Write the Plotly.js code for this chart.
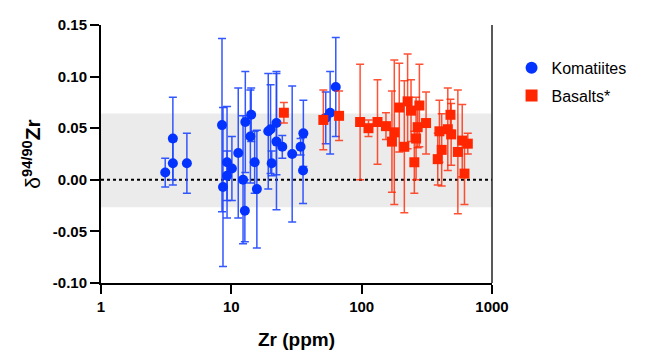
<!DOCTYPE html>
<html>
<head>
<meta charset="utf-8">
<script src="https://cdn.plot.ly/plotly-3.0.1.min.js"></script>
<style>html,body{margin:0;padding:0;background:#fff;}#chart{width:649px;height:354px;}</style>
</head>
<body>
<div id="chart"></div>
<script>
// Komatiites
const komX = [3.11, 3.56, 3.56, 4.56, 8.48, 8.63, 9.27, 9.27, 10.1, 11.3, 12.3, 12.8, 12.7, 14.2, 14.0, 15.1, 15.7, 19.2, 20.0, 22.2, 22.2, 20.4, 24.6, 29.3, 34.0, 35.7, 35.5, 53.0, 57.3, 63.3];
const komY = [0.007, 0.040, 0.016, 0.016, 0.053, -0.007, 0.017, 0.004, 0.011, 0.026, 0.000, 0.056, -0.030, 0.063, 0.042, 0.017, -0.009, 0.047, 0.049, 0.055, 0.037, 0.016, 0.032, 0.025, 0.032, 0.045, 0.009, 0.060, 0.065, 0.090];
const komErr = [0.014, 0.040, 0.021, 0.029, 0.084, 0.077, 0.054, 0.024, 0.031, 0.063, 0.062, 0.049, 0.030, 0.026, 0.045, 0.030, 0.057, 0.056, 0.043, 0.050, 0.066, 0.012, 0.011, 0.066, 0.008, 0.032, 0.032, 0.025, 0.040, 0.048];
// Basalts*
const basX = [25.3, 50.8, 67.1, 97.3, 112.8, 132.3, 153.6, 178, 170.7, 194.4, 212.5, 225.2, 239.2, 261.5, 277.3, 253.6, 269, 312, 383.5, 395, 411, 458, 480, 486, 547, 591, 652, 615];
const basY = [0.065, 0.058, 0.062, 0.056, 0.050, 0.056, 0.052, 0.046, 0.037, 0.070, 0.032, 0.076, 0.067, 0.040, 0.072, 0.017, 0.051, 0.055, 0.020, 0.047, 0.029, 0.049, 0.063, 0.044, 0.027, 0.038, 0.035, 0.006];
const basErr = [0.010, 0.029, 0.024, 0.056, 0.008, 0.041, 0.013, 0.070, 0.049, 0.043, 0.064, 0.046, 0.030, 0.040, 0.040, 0.030, 0.020, 0.030, 0.025, 0.030, 0.035, 0.040, 0.015, 0.030, 0.060, 0.035, 0.010, 0.030];
// Reference band and axis ticks
const bandLow = -0.0267, bandHigh = 0.0642;
const xTickVals = [1, 10, 100, 1000];
const xTickText = ['1', '10', '100', '1000'];
const yTickVals = [-0.10, -0.05, 0.00, 0.05, 0.10, 0.15];
const yTickText = ['-0.10', '-0.05', '0.00', '0.05', '0.10', '0.15'];

const FONT = 'Liberation Sans, Arial, sans-serif';

const traces = [
  {
    name: 'Komatiites', legendgroup: 'k', x: komX, y: komY, type: 'scatter', mode: 'markers',
    marker: {symbol: 'circle', size: 10, color: '#0433ff'},
    error_y: {type: 'data', array: komErr, visible: true, color: 'rgba(30,70,255,0.9)', thickness: 1.5, width: 4}
  },
  {
    name: 'Basalts*', legendgroup: 'b', x: basX, y: basY, type: 'scatter', mode: 'markers',
    marker: {symbol: 'square', size: 10, color: '#ff2600'},
    error_y: {type: 'data', array: basErr, visible: true, color: 'rgba(255,38,0,0.8)', thickness: 1.5, width: 4}
  }
];

const layout = {
  width: 649, height: 354,
  margin: {l: 101, r: 157, t: 25, b: 71},
  paper_bgcolor: '#fff', plot_bgcolor: '#fff',
  showlegend: true,
  legend: {x: 1.05, y: 0.9, xanchor: 'left', yanchor: 'top', font: {family: FONT, size: 16, color: '#000'}, tracegroupgap: 4, itemsizing: 'constant'},
  xaxis: {
    type: 'log', range: [0, 3], showgrid: false, zeroline: false,
    showline: true, linecolor: '#000', linewidth: 2,
    ticks: 'outside', ticklen: 9, tickwidth: 2, tickcolor: '#000',
    tickvals: xTickVals, ticktext: xTickText,
    tickfont: {family: FONT, size: 15, color: '#000', weight: 'bold'},
    title: {text: 'Zr (ppm)', font: {family: FONT, size: 19, color: '#000', weight: 'bold'}, standoff: 19}
  },
  yaxis: {
    range: [-0.10, 0.15], showgrid: false, zeroline: false,
    showline: true, linecolor: '#000', linewidth: 2,
    ticks: 'outside', ticklen: 9, tickwidth: 2, tickcolor: '#000',
    tickvals: yTickVals, ticktext: yTickText,
    tickfont: {family: FONT, size: 15, color: '#000', weight: 'bold'},
    title: {text: 'δ<b><sup>94/90</sup>Zr</b>', font: {family: FONT, size: 21, color: '#000'}, standoff: 6}
  },
  shapes: [
    {type: 'rect', xref: 'paper', x0: 0, x1: 1, yref: 'y', y0: bandLow, y1: bandHigh, fillcolor: '#ebebeb', line: {width: 0}, layer: 'below'},
    {type: 'line', xref: 'paper', x0: 0, x1: 1, yref: 'y', y0: 0, y1: 0, line: {color: '#000', width: 2, dash: 'dot'}, layer: 'below'},
    {type: 'line', xref: 'paper', x0: 1, x1: 1, yref: 'paper', y0: 0, y1: 1, line: {color: '#222', width: 1.5}}
  ]
};

Plotly.newPlot('chart', traces, layout, {displayModeBar: false, staticPlot: true});
</script>
</body>
</html>
